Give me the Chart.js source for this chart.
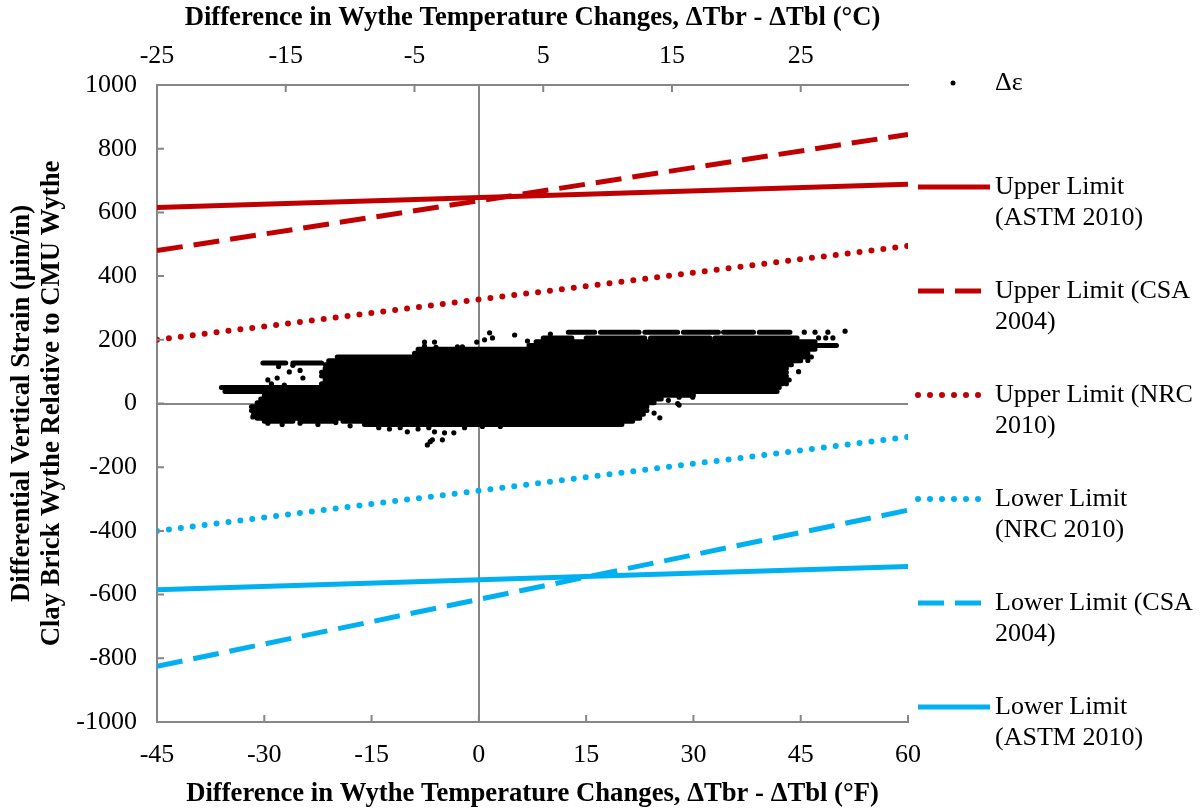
<!DOCTYPE html>
<html>
<head>
<meta charset="utf-8">
<script src="https://cdn.jsdelivr.net/npm/chart.js@4.4.1/dist/chart.umd.min.js"></script>
<style>
html,body{margin:0;padding:0;background:#fff;}
#wrap{width:1203px;height:809px;position:relative;}
</style>
</head>
<body>
<div id="wrap"><canvas id="c" width="1203" height="809"></canvas></div>
<script>
// ---- axes ----
const xTicksF = [-45, -30, -15, 0, 15, 30, 45, 60];
const xTicksC = [-25, -15, -5, 5, 15, 25];
const yTicks = [-1000, -800, -600, -400, -200, 0, 200, 400, 600, 800, 1000];

// ---- limit lines (end points at -45 °F and 60 °F) ----
const limitTempF = [-45, 60];
const upperASTM = [615, 688];
const upperCSA = [480, 845];
const upperNRC = [200, 495];
const lowerNRC = [-400, -105];
const lowerCSA = [-825, -335];
const lowerASTM = [-585, -512];

// ---- Δε cloud: dense rows (strain level, from/to temperature difference in °F) ----
const rowStrain = [224, 224, 224, 224, 224, 224, 206, 206, 206, 206, 194, 182, 170, 158, 146, 134, 127, 127, 122, 110, 98, 86, 74, 62, 50, 38, 26, 14, 2, -10, -22, -34, -46, -56, -56, -56, -66];
const rowFromF  = [12.5, 17, 23.2, 28.6, 34.2, 39.2, 9, 15, 24, 33, 8, 7, -8.5, -9, -19.8, -21, -30.2, -26, -21.5, -21.5, -22, -22, -21.5, -22, -36, -35.5, -30, -30.5, -31, -31.8, -31.8, -31.5, -31, -30, -25, -19, -16];
const rowToF    = [16.2, 22.4, 27.8, 33.5, 38.4, 43.5, 13, 23.2, 32.3, 44.5, 47, 50, 47, 46, 46.5, 45, -27, -22, 43.7, 43, 43, 43, 43.4, 42.5, 42, 41.7, 30, 25.5, 24.5, 23.5, 23.5, 23, 22.5, -26, -20, 21.5, 20];

// ---- Δε cloud: isolated points ----
const dotTempF = [-7.6, -7.6, -8, -6.2, -6, -4.5, -3, -2.3, -0.3, 0.8, 1.5, 1.9, 5, 6.8, 10,
  45.5, 47, 48.8, 51.2, 47.5, 48.5, 49.5, 44.5, 46, 44.7, 43,
  28, 29.9, 27.8, 26.5, 28, 25.3, 24.5,
  -29.5, -28.2, -26.5, -25, -24.6, -27.2, -29, -26, -28,
  -31.6, -29.5, -27.5, -25, -22.5, -20, -18,
  -14, -12.5, -11, -10, -8.5, -7, -6.2, -4.8, -3.5, -7.2, -6.5, -5.1, -6.8, -2, 0.5, 3];
const dotStrain = [193, 180, 160, 193, 176, 168, 178, 178, 193, 200, 222, 206, 215, 196, 218,
  224, 224, 224, 227, 206, 206, 206, 155, 135, 100, 62,
  20, 20, 0, 10, -5, -45, -30,
  74, 80, 99, 104, 80, 58, 62, 120, 116,
  -42, -62, -66, -62, -66, -60, -70,
  -76, -80, -76, -89, -80, -76, -89, -92, -92, -130, -114, -114, -120, -76, -72, -72];

const legendLines = [
  ["Upper Limit", "(ASTM 2010)"],
  ["Upper Limit (CSA", "2004)"],
  ["Upper Limit (NRC", "2010)"],
  ["Lower Limit", "(NRC 2010)"],
  ["Lower Limit (CSA", "2004)"],
  ["Lower Limit", "(ASTM 2010)"]
];

const RED = '#C00000', BLUE = '#00B0F0', AXIS = '#868686';
const FONT = '"Liberation Serif", "Times New Roman", serif';

function limitData(v) { return limitTempF.map((x, i) => ({x: x, y: v[i]})); }

const cloudRows = [];
rowStrain.forEach((s, i) => {
  cloudRows.push({x: rowFromF[i], y: s}, {x: rowToF[i], y: s}, {x: rowToF[i], y: null});
});
const cloudDots = dotTempF.map((x, i) => ({x: x, y: dotStrain[i]}));

const styles = [
  {color: RED, dash: [], w: 5},
  {color: RED, dash: [26, 11], w: 5},
  {color: RED, dash: [0, 12], w: 6},
  {color: BLUE, dash: [0, 12], w: 6},
  {color: BLUE, dash: [26, 11], w: 5},
  {color: BLUE, dash: [], w: 5}
];
const series = [upperASTM, upperCSA, upperNRC, lowerNRC, lowerCSA, lowerASTM];

const lineSets = series.map((v, i) => ({
  type: 'line',
  label: legendLines[i].join(' '),
  legendLines: legendLines[i],
  data: limitData(v),
  borderColor: styles[i].color,
  borderWidth: styles[i].w,
  borderDash: styles[i].dash,
  borderCapStyle: styles[i].dash.length && styles[i].dash[0] === 0 ? 'round' : 'butt',
  pointRadius: 0,
  fill: false,
  tension: 0
}));

const datasets = lineSets.concat([
  {
    type: 'line', label: 'Δε', data: cloudRows,
    borderColor: '#000', borderWidth: 5, borderCapStyle: 'round',
    pointRadius: 0, spanGaps: false, fill: false
  },
  {
    type: 'scatter', label: 'Δε points', data: cloudDots,
    backgroundColor: '#000', borderWidth: 0, pointRadius: 2.6
  }
]);

const zeroGrid = {
  color: c => (c.tick && c.tick.value === 0) ? AXIS : 'rgba(0,0,0,0)',
  lineWidth: 2,
  drawTicks: false
};

const innerTicks = {
  id: 'innerTicks',
  afterDraw(chart) {
    const {ctx, chartArea: a, scales} = chart;
    const L = 7;
    ctx.save();
    ctx.strokeStyle = AXIS; ctx.lineWidth = 2;
    ctx.beginPath();
    scales.x.ticks.forEach(t => { const p = scales.x.getPixelForValue(t.value); ctx.moveTo(p, a.bottom); ctx.lineTo(p, a.bottom - L); });
    scales.x2.ticks.forEach(t => { const p = scales.x2.getPixelForValue(t.value); ctx.moveTo(p, a.top); ctx.lineTo(p, a.top + L); });
    scales.y.ticks.forEach(t => { const p = scales.y.getPixelForValue(t.value); ctx.moveTo(a.left, p); ctx.lineTo(a.left + L, p); });
    ctx.stroke();
    ctx.restore();
  }
};

const sideLegend = {
  id: 'sideLegend',
  afterDraw(chart) {
    const {ctx, chartArea: a} = chart;
    const step = 104, y0 = a.top - 2;
    const sx0 = a.right + 10, sx1 = a.right + 82, tx = a.right + 87;
    ctx.save();
    ctx.font = '26px ' + FONT;
    ctx.fillStyle = '#000';
    ctx.textBaseline = 'middle';
    ctx.textAlign = 'left';
    ctx.beginPath(); ctx.arc(a.right + 45, y0, 2.5, 0, Math.PI * 2); ctx.fill();
    ctx.fillText('Δε', tx, y0);
    chart.data.datasets.forEach((ds, i) => {
      if (!ds.legendLines) return;
      const y = y0 + step * (i + 1);
      ctx.save();
      ctx.strokeStyle = ds.borderColor; ctx.lineWidth = ds.borderWidth;
      ctx.setLineDash(ds.borderDash || []);
      ctx.lineCap = ds.borderCapStyle;
      ctx.beginPath(); ctx.moveTo(sx0, y); ctx.lineTo(sx1, y); ctx.stroke();
      ctx.restore();
      ds.legendLines.forEach((t, k) => ctx.fillText(t, tx, y + k * 31));
    });
    ctx.restore();
  }
};

Chart.defaults.font.family = FONT;
Chart.defaults.color = '#000';

const plainTick = v => String(v);

new Chart(document.getElementById('c'), {
  data: {datasets: datasets},
  options: {
    responsive: false,
    animation: false,
    layout: {padding: {left: 0, top: 0, bottom: 0, right: 295}},
    plugins: {legend: {display: false}, tooltip: {enabled: false}},
    scales: {
      x: {
        type: 'linear', position: 'bottom', min: -45, max: 60,
        afterBuildTicks: s => { s.ticks = xTicksF.map(v => ({value: v})); },
        afterFit: s => { s.height = 87; },
        grid: zeroGrid,
        border: {color: AXIS, width: 2},
        ticks: {font: {size: 26}, padding: 18, maxRotation: 0, callback: plainTick},
        title: {display: true, text: 'Difference in Wythe Temperature Changes, ΔTbr - ΔTbl (°F)',
          font: {size: 26.7, weight: 'bold', lineHeight: 1.125}, padding: {top: 0, bottom: 0}}
      },
      x2: {
        type: 'linear', position: 'top', min: -25, max: 60 * 5 / 9,
        afterBuildTicks: s => { s.ticks = xTicksC.map(v => ({value: v})); },
        afterFit: s => { s.height = 85; },
        grid: {display: false, drawTicks: false},
        border: {color: AXIS, width: 2},
        ticks: {font: {size: 26}, padding: 13, maxRotation: 0, callback: plainTick},
        title: {display: true, text: 'Difference in Wythe Temperature Changes, ΔTbr - ΔTbl (°C)',
          font: {size: 26.7, weight: 'bold', lineHeight: 1.125}, padding: {top: 3, bottom: 0}}
      },
      y: {
        type: 'linear', position: 'left', min: -1000, max: 1000,
        afterBuildTicks: s => { s.ticks = yTicks.map(v => ({value: v})); },
        afterFit: s => { s.width = 157; },
        grid: zeroGrid,
        border: {color: AXIS, width: 2},
        ticks: {font: {size: 26}, padding: 20, callback: plainTick},
        title: {display: true, text: ['Differential Vertical Strain (µin/in)', 'Clay Brick Wythe Relative to CMU Wythe'],
          font: {size: 26.7, weight: 'bold', lineHeight: 1.125}, padding: {top: 7, bottom: 0}}
      }
    }
  },
  plugins: [innerTicks, sideLegend]
});
</script>
</body>
</html>
